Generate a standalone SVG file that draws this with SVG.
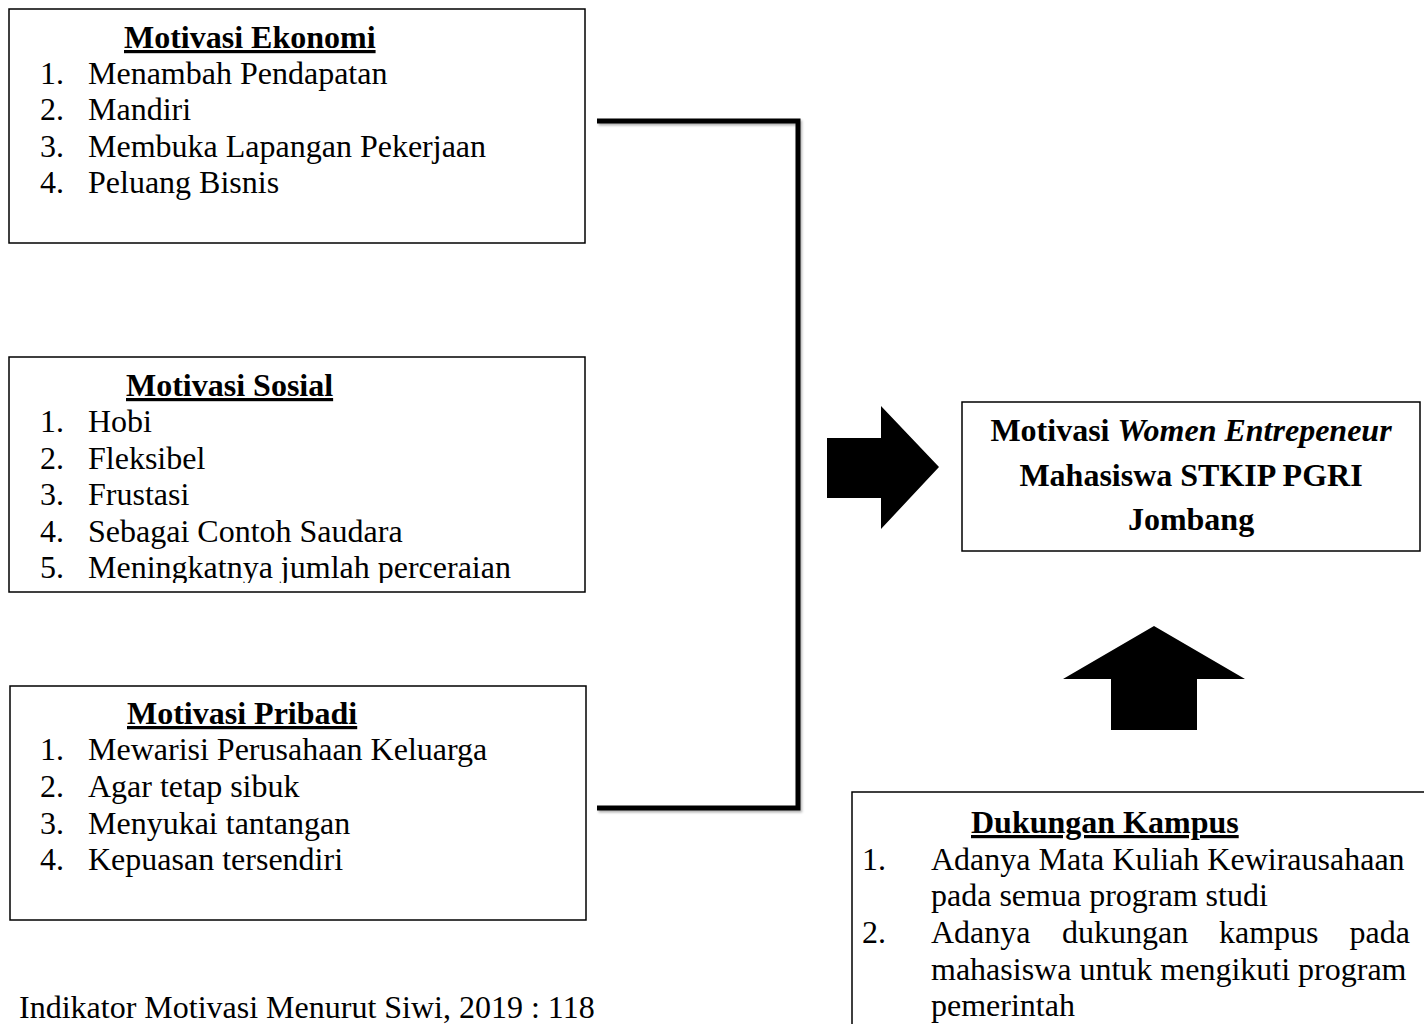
<svg xmlns="http://www.w3.org/2000/svg" width="1424" height="1024" viewBox="0 0 1424 1024">
<style>
.box{fill:#fff;stroke:#000;stroke-width:1.5}
text{font-family:"Liberation Serif","Times New Roman",serif;font-size:32px;fill:#000}
.ttl{font-weight:bold;text-decoration:underline}
.b{font-weight:bold}
.conn{stroke:#000;fill:none;stroke-linecap:butt;filter:url(#sh)}
.arr{fill:#000}
</style>
<defs>
<filter id="sh" x="-10%" y="-10%" width="130%" height="130%">
<feDropShadow dx="1.5" dy="2" stdDeviation="1" flood-color="#000" flood-opacity="0.3"/>
</filter>
<clipPath id="c2"><rect x="9" y="357" width="576" height="226"/></clipPath>
</defs>
<rect width="1424" height="1024" fill="#fff"/>

<g id="connectors">
<path class="conn" d="M597 121 H798 V808 H597" stroke-width="5"/>
<path class="conn" d="M597 469 H798" stroke-width="4"/>
<polygon class="arr" points="827,438 881,438 881,406 939,467 881,529 881,498 827,498"/>
<polygon class="arr" points="1154,626 1245,679 1197,679 1197,730 1111,730 1111,679 1063,679"/>
</g>

<g id="motivasi-ekonomi">
<rect class="box" x="9" y="9" width="576" height="234"/>
<text class="ttl" x="124" y="48">Motivasi Ekonomi</text>
<text x="40" y="84">1.</text><text x="88" y="84">Menambah Pendapatan</text>
<text x="40" y="120">2.</text><text x="88" y="120">Mandiri</text>
<text x="40" y="157">3.</text><text x="88" y="157">Membuka Lapangan Pekerjaan</text>
<text x="40" y="193">4.</text><text x="88" y="193">Peluang Bisnis</text>
</g>

<g id="motivasi-sosial">
<rect class="box" x="9" y="357" width="576" height="235"/>
<g clip-path="url(#c2)">
<text class="ttl" x="126" y="396">Motivasi Sosial</text>
<text x="40" y="432">1.</text><text x="88" y="432">Hobi</text>
<text x="40" y="469">2.</text><text x="88" y="469">Fleksibel</text>
<text x="40" y="505">3.</text><text x="88" y="505">Frustasi</text>
<text x="40" y="542">4.</text><text x="88" y="542">Sebagai Contoh Saudara</text>
<text x="40" y="578">5.</text><text x="88" y="578">Meningkatnya jumlah perceraian</text>
</g>
</g>

<g id="motivasi-pribadi">
<rect class="box" x="10" y="686" width="576" height="234"/>
<text class="ttl" x="127" y="724">Motivasi Pribadi</text>
<text x="40" y="760">1.</text><text x="88" y="760">Mewarisi Perusahaan Keluarga</text>
<text x="40" y="797">2.</text><text x="88" y="797">Agar tetap sibuk</text>
<text x="40" y="834">3.</text><text x="88" y="834">Menyukai tantangan</text>
<text x="40" y="870">4.</text><text x="88" y="870">Kepuasan tersendiri</text>
</g>

<g id="women-entrepreneur">
<rect class="box" x="962" y="402" width="458" height="149"/>
<text class="b" x="1191" y="441" text-anchor="middle">Motivasi <tspan font-style="italic">Women Entrepeneur</tspan></text>
<text class="b" x="1191" y="486" text-anchor="middle">Mahasiswa STKIP PGRI</text>
<text class="b" x="1191" y="530" text-anchor="middle">Jombang</text>
</g>

<g id="dukungan-kampus">
<rect class="box" x="852" y="792" width="600" height="260"/>
<text class="ttl" x="971" y="833">Dukungan Kampus</text>
<text x="862" y="870">1.</text><text x="931" y="870">Adanya Mata Kuliah Kewirausahaan</text>
<text x="931" y="906">pada semua program studi</text>
<text x="862" y="943">2.</text>
<text x="931" y="943">Adanya</text><text x="1062" y="943">dukungan</text><text x="1219" y="943">kampus</text><text x="1410" y="943" text-anchor="end">pada</text>
<text x="931" y="980">mahasiswa untuk mengikuti program</text>
<text x="931" y="1016">pemerintah</text>
</g>

<g id="footer">
<text x="19" y="1018">Indikator Motivasi Menurut Siwi, 2019 : 118</text>
</g>
</svg>
